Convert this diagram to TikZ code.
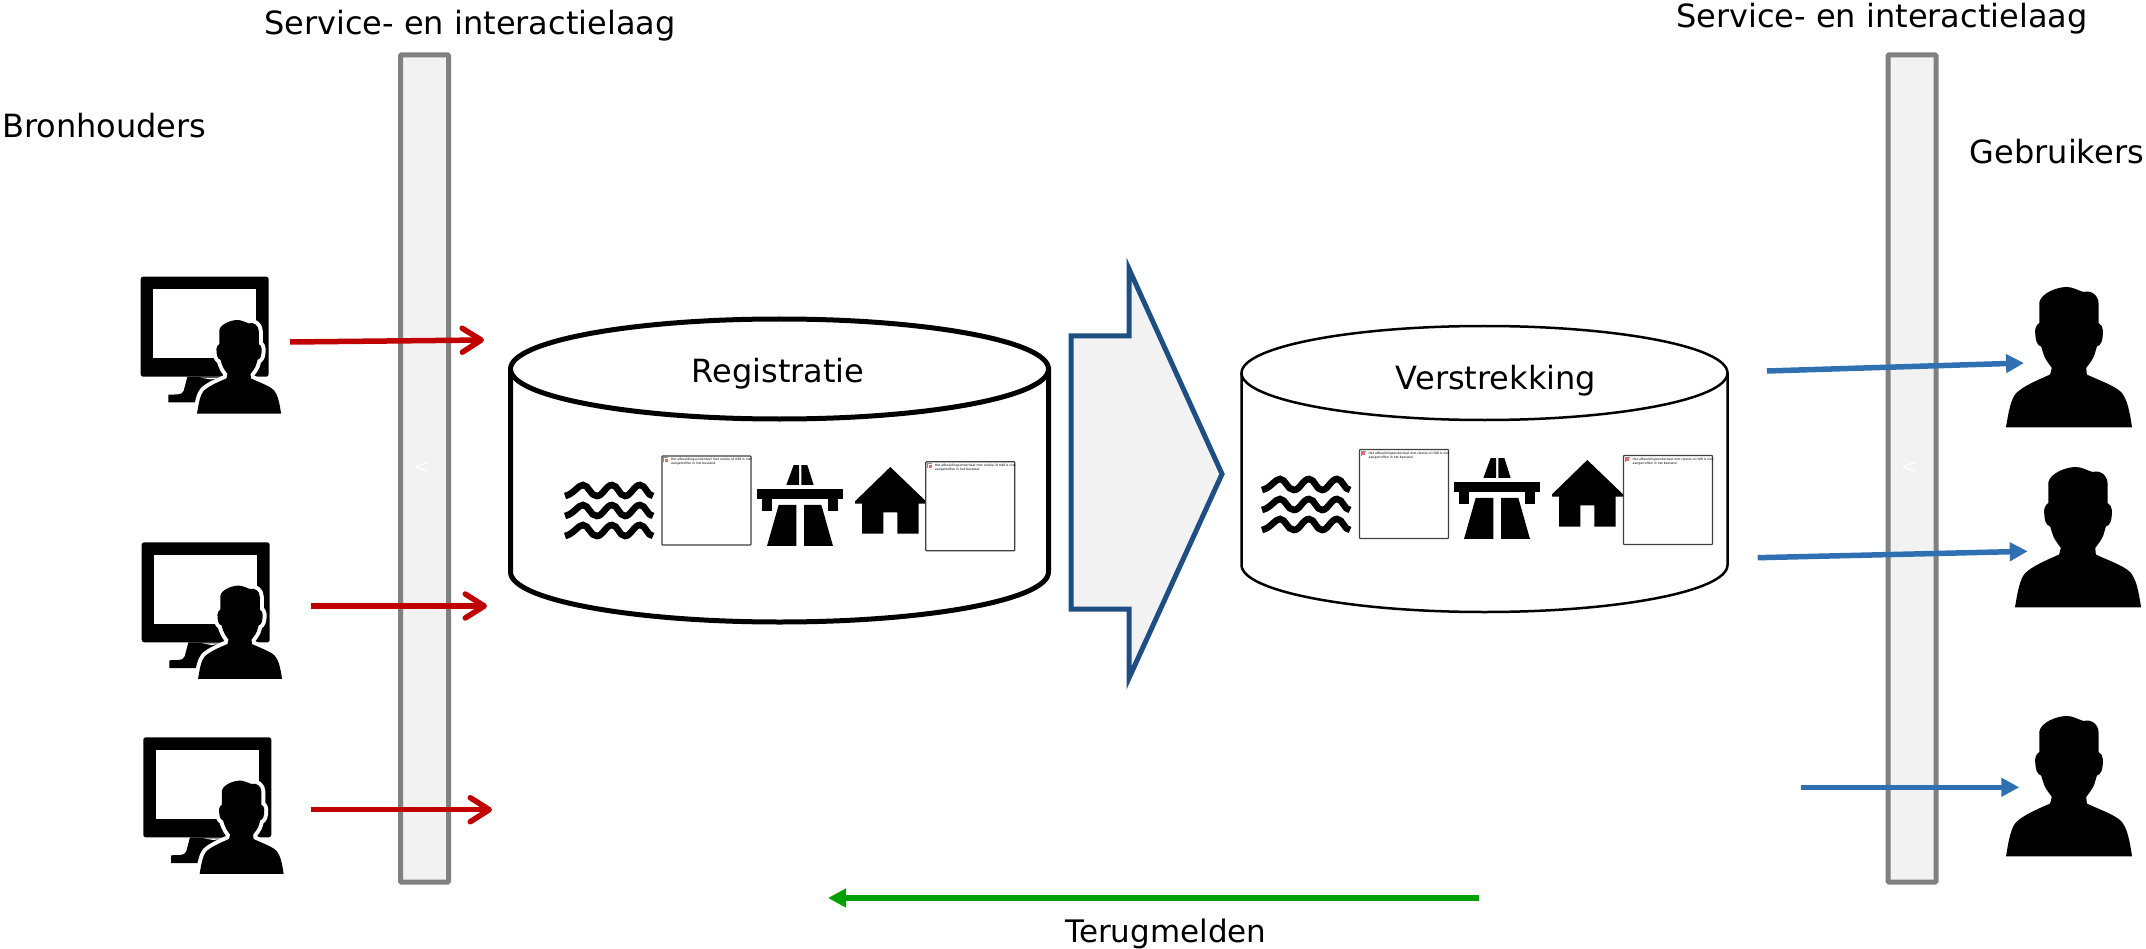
\documentclass[tikz,border=0pt]{standalone}
\usepackage{fontspec}
\setmainfont{DejaVu Sans}
\usetikzlibrary{arrows.meta}
\definecolor{barfill}{HTML}{F2F2F2}
\definecolor{bargray}{HTML}{808080}
\definecolor{navy}{HTML}{1F4E82}
\definecolor{redline}{HTML}{C00000}
\definecolor{blueline}{HTML}{2E70B2}
\definecolor{greenline}{HTML}{00A000}
\tikzset{
  lbl/.style={font=\fontsize{32}{36}\selectfont,text=black,inner sep=0pt},
  bar/.style={draw=bargray,fill=barfill,line width=5pt,rounded corners=1pt},
  drum/.style={draw=black,fill=white,line join=round},
  redarrow/.style={draw=redline,line width=5.5pt,-{Straight Barb[length=19pt,width=24pt,round,line width=5.5pt]}},
  bluearrow/.style={draw=blueline,line width=5.5pt,-{Triangle[length=18pt,width=18pt]}},
  greenarrow/.style={draw=greenline,line width=5.5pt,-{Triangle[length=18pt,width=18pt]}},
  holder/.style={draw=black!75,fill=white,line width=1.2pt,rounded corners=.8pt},
  tiny/.style={font=\fontsize{3.15}{4}\selectfont,text=black,inner sep=0pt,anchor=north west,align=left}
}
% person: local box 377 x 420, origin top-left
\newcommand{\personpath}{(0,420) .. controls (8,370) and (15,335) .. (30,318) .. controls (50,298) and (90,280) .. (132,262)
 -- (137,242) .. controls (125,225) and (116,215) .. (112,200) -- (105,178) .. controls (92,175) and (88,160) .. (87,130)
 .. controls (88,118) and (95,110) .. (100,108) -- (100,45) .. controls (105,20) and (150,0) .. (182,0)
 .. controls (200,0) and (215,10) .. (232,15) .. controls (255,8) and (277,25) .. (277,50) -- (277,108)
 .. controls (285,112) and (290,120) .. (290,130) .. controls (290,160) and (285,175) .. (272,178) -- (264,205)
 .. controls (260,215) and (250,230) .. (240,242) -- (242,262) .. controls (280,280) and (325,295) .. (345,315)
 .. controls (362,335) and (370,370) .. (377,420) -- cycle}
\newcommand{\person}[3]{\begin{scope}[shift={(#1,#2)},scale=#3]\fill[black] \personpath;\end{scope}}
% monitor + person, origin at monitor top-left
\newcommand{\monitor}[2]{\begin{scope}[shift={(#1,#2)}]
 \fill[black,rounded corners=2.5pt] (0,0) rectangle (128,100);
 \fill[white] (12.5,12.5) rectangle (115.5,81.5);
 \fill[black] (46.7,100) -- (43,114) .. controls (42,116.5) and (40,117.7) .. (37,117.7) -- (27.7,118) -- (27.7,125.7) -- (70,125.7) -- (80,100) -- cycle;
 \fill[white] (60,101) -- (82,101) -- (70,102.7) -- cycle;
 \begin{scope}[shift={(56.3,43.3)},scale=.223]
  \draw[white,line width=8pt,line join=round] \personpath;
  \fill[black] \personpath;
 \end{scope}
 \fill[white] (45,137) rectangle (150,145);
\end{scope}}
\newcommand{\waves}[2]{\begin{scope}[shift={(#1,#2)}]
 \foreach \d in {0,20,40}{
  \draw[black,line width=6.6pt] (0,14+\d) .. controls (9,12+\d) and (13,3+\d) .. (18,3+\d) .. controls (24,3+\d) and (25,14+\d) .. (32,14+\d)
   .. controls (38,14+\d) and (41,3+\d) .. (47,3+\d) .. controls (53,3+\d) and (54,14+\d) .. (60,14+\d)
   .. controls (66,14+\d) and (69,3+\d) .. (75,3+\d) .. controls (81,3+\d) and (82,14+\d) .. (88,14+\d);
 }
\end{scope}}
\newcommand{\highway}[2]{\begin{scope}[shift={(#1,#2)},scale=.3333]
 \fill[black] (88,60) -- (110,0) -- (126,0) -- (126,60) -- cycle;
 \fill[black] (133,60) -- (133,0) -- (151,0) -- (170,60) -- cycle;
 \fill[black] (0,73) rectangle (259,103);
 \fill[black] (16,103) rectangle (45,137);
 \fill[black] (214,103) rectangle (243,137);
 \fill[black] (30,243) -- (65,120) -- (118,120) -- (118,243) -- cycle;
 \fill[black] (141,120) -- (193,120) -- (228,243) -- (141,243) -- cycle;
\end{scope}}
\newcommand{\house}[2]{\begin{scope}[shift={(#1,#2)}]
 \fill[black] (0,34.3) -- (35.3,0) -- (71,34.3) -- (71,36.7) -- (63.7,36.7) -- (63.7,66.7) -- (42.3,66.7) -- (42.3,45.3) -- (28.3,45.3) -- (28.3,66.7) -- (7,66.7) -- (7,36.7) -- (0,36.7) -- cycle;
\end{scope}}
\begin{document}
\begin{tikzpicture}[x=1pt,y=-1pt]
\useasboundingbox (0,0) rectangle (2146,949);
% bars
\node[bar,minimum width=48pt,minimum height=827pt,inner sep=0pt] (barL) at (424.5,468.5) {};
\node[bar,minimum width=48pt,minimum height=827pt,inner sep=0pt] (barR) at (1912,468.5) {};
\node[lbl,text=white,font=\fontsize{20}{22}\selectfont] (ltL) at (421.5,468) {<};
\node[lbl,text=white,font=\fontsize{20}{22}\selectfont] (ltR) at (1909,468) {<};
% labels
\node[lbl,anchor=base west] (svcL) at (264,35) {Service- en interactielaag};
\node[lbl,anchor=base west] (svcR) at (1676,28) {Service- en interactielaag};
\node[lbl,anchor=base west] (bron) at (2,138) {Bronhouders};
\node[lbl,anchor=base east] (gebr) at (2144,164) {Gebruikers};
\node[lbl,font=\fontsize{31}{36}\selectfont] (ter) at (1166,934) {Terugmelden};
% monitors, persons
\monitor{140.7}{276.7}
\monitor{141.7}{542.3}
\monitor{143.3}{737.3}
\person{2006}{287}{.3342}
\person{2015}{467}{.3342}
\person{2006}{716}{.3342}
% cylinder 1
\draw[drum,line width=5pt] (510.5,369) -- (510.5,572) arc[x radius=269,y radius=50,start angle=180,end angle=0] -- (1048.5,369);
\draw[drum,line width=5pt] (779.5,369) ellipse[x radius=269,y radius=50];
% cylinder 2
\draw[drum,line width=2.5pt] (1241.5,373) -- (1241.5,565) arc[x radius=243,y radius=47,start angle=180,end angle=0] -- (1727.5,373);
\draw[drum,line width=2.5pt] (1484.5,373) ellipse[x radius=243,y radius=47];
\node[lbl] (reg) at (778,373.5) {Registratie};
\node[lbl] (ver) at (1496,380.5) {Verstrekking};
% big arrow
\draw[draw=navy,fill=barfill,line width=5pt,line join=miter] (1071,336) -- (1129,336) -- (1129,269) -- (1222,474) -- (1129,678) -- (1129,609) -- (1071,609) -- cycle;
% icons
\waves{565}{482}
\highway{757}{465}
\house{855}{467}
\waves{1262}{476}
\highway{1454}{458}
\house{1552}{460}
\node[holder,minimum width=89pt,minimum height=89pt,inner sep=0pt] (ph1) at (706.5,500.5) {};
\node[holder,minimum width=89pt,minimum height=89pt,inner sep=0pt] (ph2) at (970.3,506.3) {};
\node[holder,minimum width=89pt,minimum height=89pt,inner sep=0pt] (ph3) at (1404,494) {};
\node[holder,minimum width=89pt,minimum height=89pt,inner sep=0pt] (ph4) at (1668,500) {};
\foreach \p in {ph1,ph2,ph3,ph4}{
  \draw[black!45,line width=.8pt] ([shift={(2,7)}]\p.north west) -- ([shift={(2,2)}]\p.north west) -- ([shift={(7,2)}]\p.north west);
  \fill[red!60!white] ([shift={(3.5,3.5)}]\p.north west) rectangle ([shift={(6.5,6.5)}]\p.north west);
  \node[tiny] at ([shift={(9.5,3)}]\p.north west) {Het afbeeldingsonderdeel met relatie-id rId9 is niet\\aangetroffen in het bestand.};
}
% arrows
\coordinate (r1a) at (290,342); \coordinate (r1b) at (484,340);
\coordinate (r2a) at (311,606); \coordinate (r2b) at (487,606);
\coordinate (r3a) at (311,809.7); \coordinate (r3b) at (492,809.7);
\draw[redarrow] (r1a) -- (r1b);
\draw[redarrow] (r2a) -- (r2b);
\draw[redarrow] (r3a) -- (r3b);
\coordinate (b1a) at (1767,371); \coordinate (b1b) at (2024,363);
\coordinate (b2a) at (1757.7,557.7); \coordinate (b2b) at (2027.7,551.3);
\coordinate (b3a) at (1801,787.3); \coordinate (b3b) at (2019.3,787.3);
\draw[bluearrow] (b1a) -- (b1b);
\draw[bluearrow] (b2a) -- (b2b);
\draw[bluearrow] (b3a) -- (b3b);
\coordinate (g1a) at (1479,898); \coordinate (g1b) at (828,898);
\draw[greenarrow] (g1a) -- (g1b);
\end{tikzpicture}
\end{document}
